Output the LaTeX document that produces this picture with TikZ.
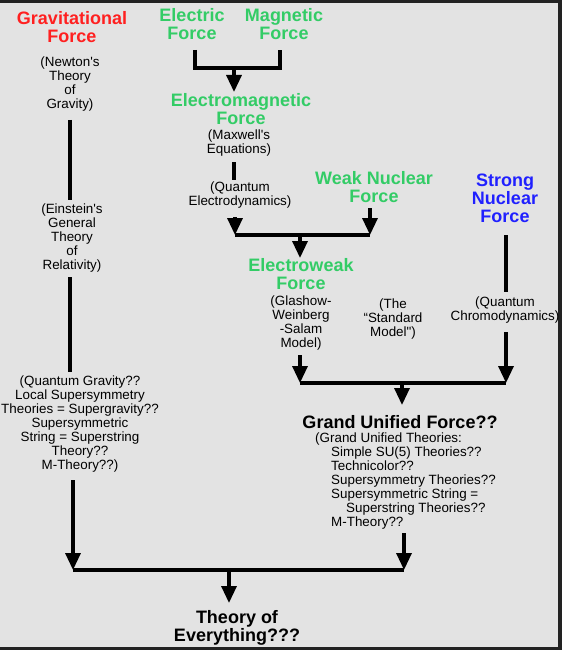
\documentclass[tikz,border=0pt]{standalone}
\usepackage{fontspec}
\setmainfont{Liberation Sans}
\usetikzlibrary{arrows.meta}
\definecolor{bg}{HTML}{E3E3E3}
\definecolor{framec}{HTML}{222222}
\definecolor{fred}{HTML}{FF2020}
\definecolor{fgreen}{HTML}{33CC66}
\definecolor{fblue}{HTML}{2020FF}
\tikzset{
  title/.style={font=\fontsize{18}{18}\selectfont\bfseries, align=center, inner sep=0pt},
  note/.style={font=\fontsize{13.4}{14}\selectfont, align=center, inner sep=0pt},
  ln/.style={line width=3.3pt},
  arr/.style={line width=3.3pt, -{Triangle[width=15pt,length=17pt]}},
}
\begin{document}
\begin{tikzpicture}[x=1pt,y=-1pt]
\fill[framec] (0,0) rectangle (562,650);
\fill[bg] (0,3) rectangle (558,647);
\useasboundingbox (0,0) rectangle (562,650);

% nodes
\node[title, text=fred] (grav) at (72,27) {Gravitational\\Force};
\node[note] (newton) at (70,84) {(Newton\textquotesingle s\\Theory\\of\\Gravity)};
\node[note] (einstein) at (72,238) {(Einstein\textquotesingle s\\General\\Theory\\of\\Relativity)};
\node[note] (qg) at (80,424.5) {(Quantum Gravity??\\Local Supersymmetry\\Theories = Supergravity??\\Supersymmetric\\String = Superstring\\Theory??\\M-Theory??)};
\node[title, text=fgreen] (elec) at (192,24) {Electric\\Force};
\node[title, text=fgreen] (magn) at (284,24) {Magnetic\\Force};
\node[title, text=fgreen] (em) at (241,109) {Electromagnetic\\Force};
\node[note] (maxwell) at (239,143) {(Maxwell\textquotesingle s\\Equations)};
\node[note] (qed) at (240,195.5) {(Quantum\\Electrodynamics)};
\node[title, text=fgreen] (weak) at (374,187) {Weak Nuclear\\Force};
\node[title, text=fblue] (strong) at (505,198) {Strong\\Nuclear\\Force};
\node[title, text=fgreen] (ew) at (301,274.5) {Electroweak\\Force};
\node[note] (gws) at (301,323.5) {(Glashow-\\Weinberg\\-Salam\\Model)};
\node[note] (sm) at (393,319) {(The\\“Standard\\Model\textquotedbl)};
\node[note] (qcd) at (505,310) {(Quantum\\Chromodynamics)};
\node[title] (guf) at (400,422) {Grand Unified Force??};
\node[note, align=left, anchor=west] (gut) at (315,481) {(Grand Unified Theories:\\
\hspace*{16pt}Simple SU(5) Theories??\\
\hspace*{16pt}Technicolor??\\
\hspace*{16pt}Supersymmetry Theories??\\
\hspace*{16pt}Supersymmetric String =\\
\hspace*{31pt}Superstring Theories??\\
\hspace*{16pt}M-Theory??};
\node[title] (toe) at (237,628) {Theory of\\Everything???};

% coordinates
\coordinate (n1) at (70,120);  \coordinate (n2) at (70,200);
\coordinate (e1) at (70,277);  \coordinate (e2) at (70,372);
\coordinate (q1) at (73,480);  \coordinate (jl3) at (73,570);
\coordinate (b1) at (195,50);  \coordinate (b2) at (195,68);
\coordinate (b3) at (280,68);  \coordinate (b4) at (280,50);
\coordinate (bm) at (234,68);  \coordinate (bt) at (234,92);
\coordinate (m1) at (234,162); \coordinate (m2) at (234,180);
\coordinate (qe1) at (235,217); \coordinate (jl1) at (235,235);
\coordinate (w1) at (370,208); \coordinate (jr1) at (370,235);
\coordinate (jm1) at (300,235); \coordinate (jt1) at (300,258);
\coordinate (s1) at (506,235); \coordinate (s2) at (506,292);
\coordinate (c1) at (506,332); \coordinate (jr2) at (506,383);
\coordinate (g1) at (300,355); \coordinate (jl2) at (300,383);
\coordinate (jm2) at (402,383); \coordinate (jt2) at (402,405);
\coordinate (u1) at (404,533); \coordinate (jr3) at (404,570);
\coordinate (jm3) at (229,570); \coordinate (jt3) at (229,603);

% connectors
\draw[ln] (n1) -- (n2);
\draw[ln] (e1) -- (e2);
\draw[arr] (q1) -- (jl3);
\draw[ln, line join=miter] (b1) -- (b2) -- (b3) -- (b4);
\draw[arr] (bm) -- (bt);
\draw[ln] (m1) -- (m2);
\draw[arr] (qe1) -- (jl1);
\draw[arr] (w1) -- (jr1);
\draw[ln] (jl1) -- (jr1);
\draw[arr] (jm1) -- (jt1);
\draw[ln] (s1) -- (s2);
\draw[arr] (c1) -- (jr2);
\draw[arr] (g1) -- (jl2);
\draw[ln] (jl2) -- (jr2);
\draw[arr] (jm2) -- (jt2);
\draw[arr] (u1) -- (jr3);
\draw[ln] (jl3) -- (jr3);
\draw[arr] (jm3) -- (jt3);
\end{tikzpicture}
\end{document}
